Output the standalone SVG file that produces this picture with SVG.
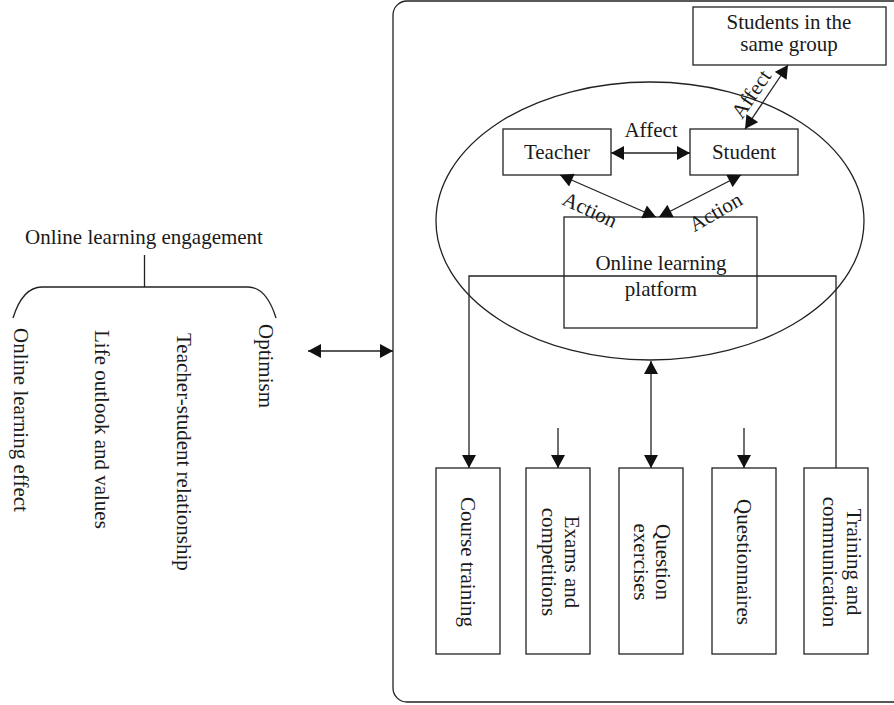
<svg xmlns="http://www.w3.org/2000/svg" width="894" height="705" viewBox="0 0 894 705">
<style>
text{font-family:"Liberation Serif","Times New Roman",serif;font-size:21px;fill:#1a1a1a}
.m{text-anchor:middle}
.s{text-anchor:start}
.b{fill:none;stroke:#222;stroke-width:1.3}
.l{fill:none;stroke:#222;stroke-width:1.3}
.a2{marker-start:url(#ah);marker-end:url(#ah)}
.a1{marker-end:url(#ah)}
</style>
<defs>
<marker id="ah" markerUnits="userSpaceOnUse" markerWidth="14" markerHeight="14" viewBox="0 0 13 14" refX="13" refY="7" orient="auto-start-reverse">
<path d="M0,0 L13,7 L0,14 Z" fill="#111"/>
</marker>
</defs>
<rect width="894" height="705" fill="#fff"/>

<g id="engagement">
<text class="m" x="144" y="244">Online learning engagement</text>
<line class="l" x1="144.5" y1="255" x2="144.5" y2="287"/>
<path class="l" d="M13,318 C18,302 27,287 42,287 L248,287 C262,287 271,302 276,318"/>
<text class="s" transform="translate(14,328) rotate(90)">Online learning effect</text>
<text class="s" transform="translate(95,330) rotate(90)">Life outlook and values</text>
<text class="s" transform="translate(177,333) rotate(90)">Teacher-student relationship</text>
<text class="s" transform="translate(259,324) rotate(90)">Optimism</text>
</g>

<g id="container">
<rect class="b" x="393" y="1" width="560" height="701" rx="14" ry="14"/>
</g>

<g id="ellipse">
<ellipse class="b" cx="650" cy="221" rx="214" ry="139"/>
</g>

<g id="group">
<rect class="b" x="693" y="7" width="193" height="58"/>
<text class="m" x="789" y="29">Students in the</text>
<text class="m" x="789" y="51">same group</text>
</g>

<g id="teacher">
<rect class="b" x="503" y="129" width="108" height="46"/>
<text class="m" x="557" y="159">Teacher</text>
</g>

<g id="student">
<rect class="b" x="690" y="129" width="108" height="46"/>
<text class="m" x="744" y="159">Student</text>
</g>

<g id="platform">
<rect class="b" x="564" y="217" width="193" height="111"/>
<text class="m" x="661" y="270">Online learning</text>
<text class="m" x="661" y="296">platform</text>
</g>

<g id="course">
<rect class="b" x="436" y="468" width="64" height="186"/>
<text class="m" transform="translate(468,562) rotate(90)" y="7">Course training</text>
</g>
<g id="exams">
<rect class="b" x="526" y="468" width="64" height="186"/>
<text class="m" transform="translate(572,562) rotate(90)" y="7">Exams and</text>
<text class="m" transform="translate(549,562) rotate(90)" y="7">competitions</text>
</g>
<g id="question">
<rect class="b" x="619" y="468" width="64" height="186"/>
<text class="m" transform="translate(663,562) rotate(90)" y="7">Question</text>
<text class="m" transform="translate(641,562) rotate(90)" y="7">exercises</text>
</g>
<g id="questionnaires">
<rect class="b" x="712" y="468" width="64" height="186"/>
<text class="m" transform="translate(744,562) rotate(90)" y="7">Questionnaires</text>
</g>
<g id="training">
<rect class="b" x="804" y="468" width="64" height="186"/>
<text class="m" transform="translate(854,562) rotate(90)" y="7">Training and</text>
<text class="m" transform="translate(830,562) rotate(90)" y="7">communication</text>
</g>

<g id="connectors">
<line class="l a2" x1="308" y1="351" x2="393" y2="351"/>
<line class="l a2" x1="611" y1="153" x2="690" y2="153"/>
<text class="m" x="651" y="137">Affect</text>
<line class="l a2" x1="788" y1="65" x2="745" y2="129"/>
<text class="m" transform="translate(757,98) rotate(-56)">Affect</text>
<line class="l a2" x1="560" y1="175" x2="656" y2="217"/>
<text class="m" transform="translate(587,216) rotate(25)">Action</text>
<line class="l a2" x1="741" y1="175" x2="659" y2="217"/>
<text class="m" transform="translate(719,218) rotate(-30)">Action</text>
<path class="l a1" d="M836,468 L836,276 L469,276 L469,468"/>
<line class="l a1" x1="558" y1="428" x2="558" y2="468"/>
<line class="l a1" x1="744" y1="428" x2="744" y2="468"/>
<line class="l a2" x1="651" y1="361" x2="651" y2="468"/>
</g>
</svg>
